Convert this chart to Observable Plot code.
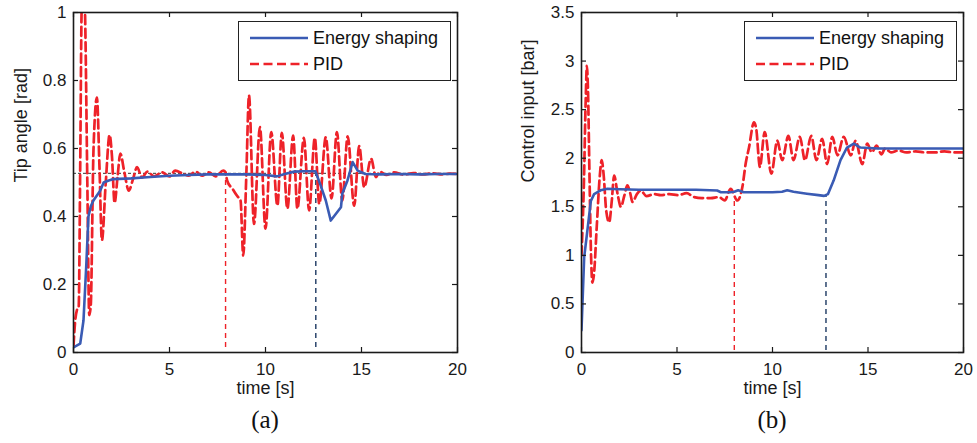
<!DOCTYPE html>
<html>
<head>
<meta charset="utf-8">
<script src="https://cdn.jsdelivr.net/npm/d3@7"></script>
<script src="https://cdn.jsdelivr.net/npm/@observablehq/plot@0.6"></script>
<style>
  body { margin: 0; background: #fff; }
  #wrap { display: flex; width: 977px; height: 443px; overflow: hidden; }
  .panel { position: relative; height: 443px; }
  .caption { position: absolute; top: 405px; line-height: 30px; text-align: center;
    font-family: "Liberation Serif", "Times New Roman", Times, serif; font-size: 25px; color: #111; }
  .legend { position: absolute; box-sizing: border-box; border: 1.5px solid #222; background: #fff;
    font-family: "Liberation Sans", Arial, sans-serif; font-size: 18px; color: #111; }
  .legend .row { position: absolute; left: 0; height: 24px; display: flex; align-items: center; }
  .legend .row svg { margin-left: 11px; margin-right: 5px; }
</style>
</head>
<body>
<div id="wrap"></div>
<script>
// ---------- data ----------
const xTicks = [0, 5, 10, 15, 20];
const tipTicks = [0, 0.2, 0.4, 0.6, 0.8, 1];
const ctrlTicks = [0, 0.5, 1, 1.5, 2, 2.5, 3, 3.5];
const seriesNames = ["Energy shaping", "PID"];
const captions = ["(a)", "(b)"];
const yLabels = ["Tip angle [rad]", "Control input [bar]"];
const xLabel = "time [s]";

// (a) tip angle
const tipEsT = [0, 0.35, 0.52, 0.66, 0.78, 0.9, 1.04, 1.2, 1.39, 1.57, 1.8, 2.08, 3, 4, 5, 6, 7, 8, 9, 10, 10.6, 11.0, 11.5, 12.0, 12.6, 12.88, 13.14, 13.4, 13.93, 14.0, 14.27, 14.54, 14.8, 15.2, 16, 17, 18, 19, 20];
const tipEsV = [0.015, 0.026, 0.094, 0.25, 0.40, 0.43, 0.447, 0.46, 0.476, 0.50, 0.505, 0.51, 0.512, 0.516, 0.52, 0.522, 0.524, 0.524, 0.524, 0.522, 0.518, 0.525, 0.532, 0.533, 0.533, 0.49, 0.447, 0.388, 0.427, 0.467, 0.506, 0.56, 0.535, 0.525, 0.524, 0.525, 0.524, 0.525, 0.525];
const tipPidT = [0, 0.1, 0.18, 0.27, 0.35, 0.42, 0.5, 0.6, 0.72, 0.82, 0.9, 1.04, 1.22, 1.35, 1.48, 1.68, 1.88, 2.0, 2.14, 2.3, 2.44, 2.65, 2.88, 3.1, 3.31, 3.57, 3.85, 4.2, 4.6, 5.0, 5.3, 5.7, 6.0, 6.35, 6.7, 7.05, 7.4, 7.8, 7.92, 8.0, 8.3, 8.53, 8.7, 8.84, 9.0, 9.14, 9.4, 9.71, 10.0, 10.3, 10.62, 10.85, 11.14, 11.44, 11.66, 12.0, 12.27, 12.57, 12.8, 13.14, 13.44, 13.72, 14.0, 14.28, 14.62, 14.88, 15.14, 15.5, 15.75, 15.95, 16.3, 16.7, 17.2, 17.7, 18.2, 18.7, 19.2, 19.6, 20];
const tipPidV = [0.02, 0.1, 0.125, 0.135, 0.55, 1.0, 1.12, 1.0, 0.5, 0.11, 0.14, 0.594, 0.75, 0.55, 0.33, 0.50, 0.64, 0.58, 0.44, 0.52, 0.585, 0.53, 0.476, 0.51, 0.545, 0.515, 0.532, 0.518, 0.53, 0.518, 0.535, 0.526, 0.52, 0.532, 0.52, 0.53, 0.518, 0.535, 0.53, 0.506, 0.48, 0.46, 0.447, 0.285, 0.52, 0.756, 0.378, 0.663, 0.364, 0.648, 0.432, 0.646, 0.423, 0.638, 0.423, 0.631, 0.418, 0.631, 0.437, 0.633, 0.453, 0.648, 0.447, 0.636, 0.432, 0.607, 0.486, 0.57, 0.516, 0.532, 0.522, 0.53, 0.523, 0.528, 0.524, 0.527, 0.524, 0.526, 0.525];
const tipRef = [0.527];
const tipMarkT = [7.92, 12.62];      // PID, Energy shaping
const tipMarkTop = [0.52, 0.525];
const tipMarkBottom = [0.015, 0.015];

// (b) control input
const ctrlEsT = [0, 0.14, 0.31, 0.49, 0.66, 1.0, 1.36, 2, 3, 4, 5, 6, 7.1, 7.3, 7.8, 8.0, 8.2, 8.5, 9, 10, 10.5, 10.77, 11.1, 11.8, 12.4, 12.7, 12.9, 13.2, 13.56, 13.9, 14.26, 14.6, 15.5, 16, 17, 18, 19, 20];
const ctrlEsV = [0.23, 0.98, 1.26, 1.56, 1.63, 1.67, 1.685, 1.68, 1.675, 1.675, 1.675, 1.675, 1.667, 1.65, 1.65, 1.655, 1.67, 1.65, 1.65, 1.65, 1.655, 1.67, 1.655, 1.635, 1.62, 1.612, 1.63, 1.77, 1.98, 2.11, 2.15, 2.11, 2.10, 2.10, 2.10, 2.10, 2.10, 2.10];
const ctrlPidT = [0, 0.12, 0.22, 0.28, 0.34, 0.42, 0.5, 0.57, 0.65, 0.8, 0.95, 1.06, 1.15, 1.3, 1.45, 1.58, 1.71, 1.9, 2.06, 2.25, 2.4, 2.55, 2.67, 2.9, 3.1, 3.4, 3.8, 4.15, 4.6, 5.06, 5.5, 5.9, 6.3, 6.77, 7.2, 7.5, 7.81, 8.16, 8.42, 8.6, 8.77, 9.03, 9.15, 9.34, 9.59, 9.94, 10.25, 10.51, 10.83, 11.1, 11.43, 11.7, 12.03, 12.3, 12.6, 12.86, 13.13, 13.4, 13.73, 14.1, 14.35, 14.7, 14.96, 15.2, 15.45, 15.7, 15.9, 16.2, 16.6, 17, 17.5, 18, 18.5, 19, 19.5, 20];
const ctrlPidV = [1.0, 1.7, 2.6, 2.95, 2.7, 1.8, 1.0, 0.72, 0.8, 1.3, 1.8, 1.98, 1.85, 1.45, 1.34, 1.55, 1.82, 1.62, 1.50, 1.62, 1.72, 1.64, 1.55, 1.63, 1.667, 1.61, 1.63, 1.62, 1.63, 1.62, 1.64, 1.60, 1.59, 1.59, 1.6, 1.565, 1.685, 1.565, 1.70, 1.95, 2.11, 2.37, 2.3, 1.91, 2.27, 1.84, 2.18, 1.98, 2.23, 1.98, 2.22, 1.98, 2.23, 1.98, 2.2, 1.94, 2.22, 2.03, 2.22, 2.03, 2.18, 1.94, 2.15, 2.06, 2.13, 2.04, 2.10, 2.06, 2.08, 2.06, 2.07, 2.06, 2.06, 2.07, 2.06, 2.06];
const ctrlMarkT = [8.0, 12.8];
const ctrlMarkTop = [1.57, 1.62];
const ctrlMarkBottom = [0.02, 0.02];

// ---------- styles ----------
const BLUE = "#3a5bb4";
const RED = "#ee2229";
const NAVY = "#1d3962";
const INK = "#1a1a1a";
const FONT = "'Liberation Sans', Arial, sans-serif";

function zip(t, v) { return t.map((d, i) => ({t: d, v: v[i]})); }

function makePanel(cfg) {
  const W = cfg.width, H = 400, mt = 12, mb = 48;
  const innerW = W - cfg.ml - cfg.mr, innerH = H - mt - mb;
  const marks = zip(cfg.markT, cfg.markTop).map((d, i) => ({t: d.t, top: d.v, bottom: cfg.markBottom[i], k: i}));
  const chart = Plot.plot({
    width: W, height: H,
    marginLeft: cfg.ml, marginRight: cfg.mr, marginTop: mt, marginBottom: mb,
    style: {fontFamily: FONT, fontSize: "17px", color: INK, background: "#fff", overflow: "visible"},
    x: {domain: [0, 20]},
    y: {domain: cfg.yDomain},
    marks: [
      cfg.ref ? Plot.ruleY(cfg.ref, {stroke: "#333", strokeWidth: 1, strokeDasharray: "3,2"}) : null,
      Plot.ruleX(marks, {x: "t", y1: "bottom", y2: "top", stroke: d => d.k === 0 ? RED : NAVY, strokeWidth: 1.4, strokeDasharray: "5,4"}),
      Plot.line(zip(cfg.pidT, cfg.pidV), {x: "t", y: "v", stroke: RED, strokeWidth: 2.7, strokeDasharray: "9,4.5", curve: "monotone-x", clip: true}),
      Plot.line(zip(cfg.esT, cfg.esV), {x: "t", y: "v", stroke: BLUE, strokeWidth: 2.6, curve: "linear", clip: true}),
      // inward ticks on all four sides
      Plot.tickX(xTicks, {x: d => d, insetTop: innerH - 5, stroke: INK, strokeWidth: 1.2}),
      Plot.tickX(xTicks, {x: d => d, insetBottom: innerH - 5, stroke: INK, strokeWidth: 1.2}),
      Plot.tickY(cfg.yTicks, {y: d => d, insetRight: innerW - 5, stroke: INK, strokeWidth: 1.2}),
      Plot.tickY(cfg.yTicks, {y: d => d, insetLeft: innerW - 5, stroke: INK, strokeWidth: 1.2}),
      Plot.frame({stroke: INK, strokeWidth: 1.6}),
      Plot.axisX({ticks: xTicks, tickSize: 0, tickPadding: 10, tickFormat: d => String(d), label: null, fontSize: 17, fill: INK}),
      Plot.axisY({ticks: cfg.yTicks, tickSize: 0, tickPadding: 7, tickFormat: d => String(d), label: null, fontSize: 17, fill: INK}),
      Plot.text([xLabel], {text: d => d, frameAnchor: "bottom", dy: 41, fontSize: 18, fill: INK}),
      Plot.text([cfg.yLabel], {text: d => d, frameAnchor: "left", dx: cfg.yLabelDx, rotate: -90, fontSize: 18, fill: INK})
    ].filter(Boolean)
  });

  const panel = document.createElement("div");
  panel.className = "panel";
  panel.style.width = W + "px";
  panel.appendChild(chart);

  const cap = document.createElement("div");
  cap.className = "caption";
  cap.style.left = cfg.ml + "px";
  cap.style.width = innerW + "px";
  cap.textContent = cfg.caption;
  panel.appendChild(cap);

  const lg = document.createElement("div");
  lg.className = "legend";
  lg.style.left = cfg.legendLeft + "px";
  lg.style.top = "21px";
  lg.style.width = "213px";
  lg.style.height = "60px";
  seriesNames.forEach((name, i) => {
    const row = document.createElement("div");
    row.className = "row";
    row.style.top = (i === 0 ? 4 : 30) + "px";
    const dash = i === 0 ? "" : 'stroke-dasharray="9,4.5"';
    row.innerHTML = `<svg width="58" height="6"><line x1="0" x2="58" y1="3" y2="3" stroke="${i === 0 ? BLUE : RED}" stroke-width="2.6" ${dash}/></svg><span>${name}</span>`;
    lg.appendChild(row);
  });
  panel.appendChild(lg);
  return panel;
}

const wrap = document.getElementById("wrap");
wrap.appendChild(makePanel({
  width: 488, ml: 73, mr: 31, yDomain: [0, 1], yTicks: tipTicks,
  esT: tipEsT, esV: tipEsV, pidT: tipPidT, pidV: tipPidV, ref: tipRef,
  markT: tipMarkT, markTop: tipMarkTop, markBottom: tipMarkBottom,
  yLabel: yLabels[0], yLabelDx: -52, caption: captions[0], legendLeft: 238
}));
wrap.appendChild(makePanel({
  width: 489, ml: 93, mr: 14, yDomain: [0, 3.5], yTicks: ctrlTicks,
  esT: ctrlEsT, esV: ctrlEsV, pidT: ctrlPidT, pidV: ctrlPidV, ref: null,
  markT: ctrlMarkT, markTop: ctrlMarkTop, markBottom: ctrlMarkBottom,
  yLabel: yLabels[1], yLabelDx: -53, caption: captions[1], legendLeft: 256
}));
</script>
</body>
</html>
